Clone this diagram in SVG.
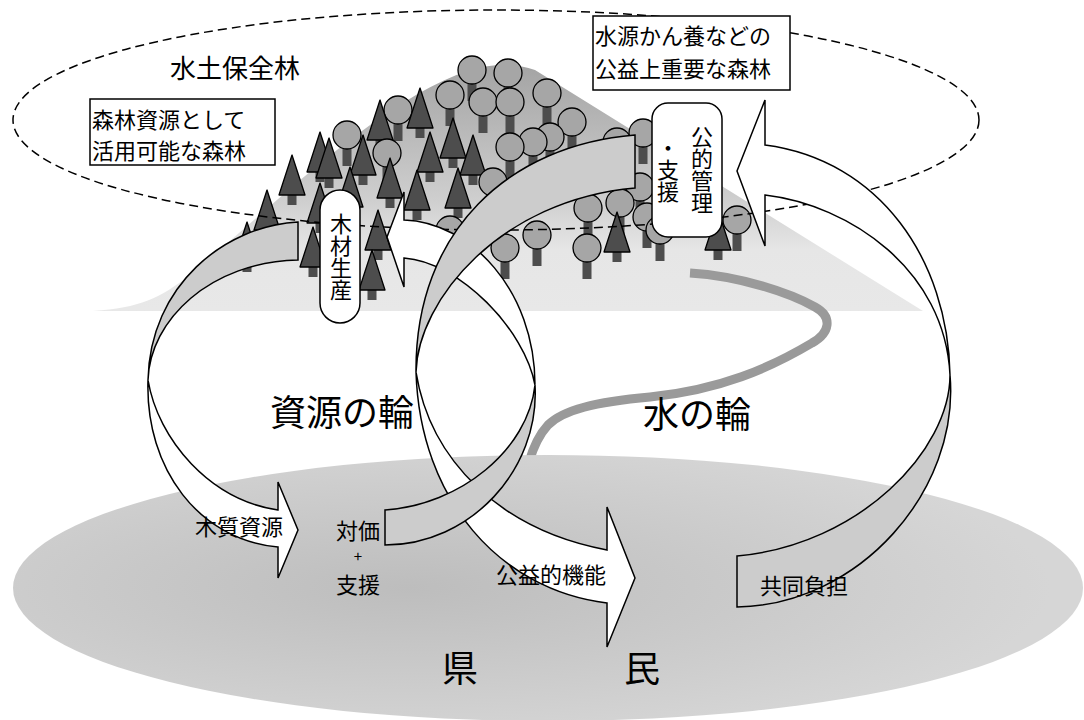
<svg xmlns="http://www.w3.org/2000/svg" xmlns:xlink="http://www.w3.org/1999/xlink" width="1084" height="720" viewBox="0 0 1084 720">
<style>
.band{stroke:#000;stroke-width:1.5;stroke-linejoin:miter}
.w{fill:#fff}
.g{fill:#cccccc}
.box{fill:#fff;stroke:#000;stroke-width:1.5}
.t{font-family:"Noto Sans CJK JP","Noto Sans CJK SC",sans-serif;fill:#000}
.s22{font-size:22px}
.s26{font-size:26px}
.s36{font-size:36px}
.vt{writing-mode:vertical-rl}
.trunk{fill:#4d4d4d}
.cone{fill:#4d4d4d;stroke:#000;stroke-width:1.3;stroke-linejoin:round}
.crown{fill:#a6a6a6;stroke:#000;stroke-width:1.3}
</style>
<defs>
<linearGradient id="mtn" gradientUnits="userSpaceOnUse" x1="0" y1="66" x2="0" y2="311">
<stop offset="0" stop-color="#a4a4a4"/>
<stop offset="0.55" stop-color="#cfcfcf"/>
<stop offset="0.75" stop-color="#e6e6e6"/>
<stop offset="1" stop-color="#e8e8e8"/>
</linearGradient>
<radialGradient id="pref" cx="0.37" cy="0.5" r="0.6">
<stop offset="0" stop-color="#bdbdbd"/>
<stop offset="1" stop-color="#d6d6d6"/>
</radialGradient>
<g id="con"><rect class="trunk" x="-4.5" y="38" width="9" height="12"/><polygon class="cone" points="0,0 -13,40 13,40"/></g>
<g id="bl"><rect class="trunk" x="-4.5" y="10" width="9" height="21"/><circle class="crown" r="14"/></g>
</defs>

<g id="mountain">
<path d="M93,311 C140,308 160,298 190,275 C280,200 380,100 470,70 Q505,60 535,70 L923,311 Z" fill="url(#mtn)"/>
</g>

<g id="river">
<path d="M690,273 C740,276 790,293 815,307 C833,317 830,333 812,343 C770,368 720,390 650,397 C595,402 563,410 548,425 Q536,438 529,462" fill="none" stroke="#9a9a9a" stroke-width="9"/>
</g>

<g id="prefecture">
<ellipse cx="548" cy="588" rx="535" ry="133" fill="url(#pref)"/>
</g>

<g id="forest">
<use href="#bl" x="472" y="70"/>
<use href="#bl" x="508" y="73"/>
<use href="#bl" x="547" y="93"/>
<use href="#bl" x="450" y="95"/>
<use href="#bl" x="483" y="102"/>
<use href="#bl" x="510" y="102"/>
<use href="#bl" x="398" y="110"/>
<use href="#con" x="420" y="88"/>
<use href="#bl" x="572" y="122"/>
<use href="#con" x="380" y="100"/>
<use href="#bl" x="643" y="133"/>
<use href="#bl" x="347" y="135"/>
<use href="#bl" x="550" y="137"/>
<use href="#bl" x="533" y="142"/>
<use href="#bl" x="617" y="142"/>
<use href="#con" x="453" y="118"/>
<use href="#bl" x="510" y="147"/>
<use href="#bl" x="387" y="153"/>
<use href="#con" x="320" y="132"/>
<use href="#con" x="430" y="132"/>
<use href="#con" x="363" y="135"/>
<use href="#con" x="473" y="135"/>
<use href="#con" x="329" y="138"/>
<use href="#con" x="292" y="155"/>
<use href="#bl" x="493" y="182"/>
<use href="#con" x="390" y="158"/>
<use href="#bl" x="640" y="187"/>
<use href="#con" x="350" y="167"/>
<use href="#con" x="458" y="168"/>
<use href="#con" x="417" y="170"/>
<use href="#bl" x="620" y="203"/>
<use href="#bl" x="588" y="208"/>
<use href="#con" x="320" y="183"/>
<use href="#con" x="267" y="190"/>
<use href="#bl" x="647" y="217"/>
<use href="#bl" x="737" y="220"/>
<use href="#bl" x="660" y="230"/>
<use href="#bl" x="450" y="230"/>
<use href="#bl" x="537" y="235"/>
<use href="#con" x="378" y="210"/>
<use href="#con" x="718" y="210"/>
<use href="#con" x="617" y="212"/>
<use href="#con" x="247" y="222"/>
<use href="#bl" x="505" y="248"/>
<use href="#bl" x="587" y="248"/>
<use href="#con" x="313" y="227"/>
<use href="#con" x="372" y="250"/>
</g>

<g id="suido-hoanrin">
<ellipse cx="496" cy="120" rx="483" ry="110" fill="none" stroke="#000" stroke-width="1.5" stroke-dasharray="9 5"/>
<text class="t s26" x="170" y="78">水土保全林</text>
</g>

<g id="box-shigen">
<rect class="box" x="90" y="99" width="185" height="66"/>
<text class="t s22" x="92" y="128">森林資源として</text>
<text class="t s22" x="92" y="159">活用可能な森林</text>
</g>

<g id="box-suigen">
<rect class="box" x="593" y="16" width="197" height="74"/>
<text class="t s22" x="595" y="44">水源かん養などの</text>
<text class="t s22" x="595" y="77">公益上重要な森林</text>
</g>

<g id="connectors">
<path class="band g" d="M298,222 C225,226 150,285 148,380 C150,320 210,262 298,260 Z"/>
<path class="band w" d="M148,380 C158,440 210,500 278,510 L278,482 L298,530 L278,578 L278,547 C200,540 145,470 148,380 Z"/>
<path class="band w" d="M535,385 C525,330 460,262 404,258 L404,287 L387,237 L404,192 L404,220 C470,222 535,290 535,385 Z"/>
<path class="band g" d="M635,135 C510,145 415,230 416,372 C418,300 500,200 635,188 Z"/>
<path class="band w" d="M416,372 C430,460 500,530 607,550 L607,507 L635,578 L607,647 L607,603 C500,590 420,500 416,372 Z"/>
<path class="band g" d="M535,385 C528,450 460,505 385,510 L385,545 C470,545 540,470 535,385 Z"/>
<path class="band w" d="M950,375 C945,270 850,205 765,195 L765,246 L737,171 L765,100 L765,145 C880,160 948,260 950,375 Z"/>
<path class="band g" d="M950,375 C950,450 860,545 737,556 L737,607 C860,605 960,490 950,375 Z"/>
</g>

<g id="node-mokuzai">
<rect class="box" x="320" y="190" width="40" height="133" rx="20" ry="20"/>
<text class="t s22 vt" x="341" y="257" text-anchor="middle">木材生産</text>
</g>

<g id="node-kouteki">
<rect class="box" x="652" y="103" width="70" height="134" rx="16" ry="16"/>
<text class="t s22 vt" x="702" y="170" text-anchor="middle">公的管理</text>
<text class="t s22 vt" x="668" y="170" text-anchor="middle">・支援</text>
</g>

<g id="labels">
<text class="t s36" x="270" y="426">資源の輪</text>
<text class="t s36" x="643" y="428">水の輪</text>
<text class="t s22" x="195" y="535">木質資源</text>
<text class="t s22" x="358" y="539" text-anchor="middle">対価</text>
<text class="t" x="358" y="562" text-anchor="middle" font-size="15">+</text>
<text class="t s22" x="358" y="593" text-anchor="middle">支援</text>
<text class="t s22" x="496" y="583">公益的機能</text>
<text class="t s22" x="760" y="594">共同負担</text>
<text class="t s36" x="442" y="682">県</text>
<text class="t s36" x="624" y="682">民</text>
</g>
</svg>
